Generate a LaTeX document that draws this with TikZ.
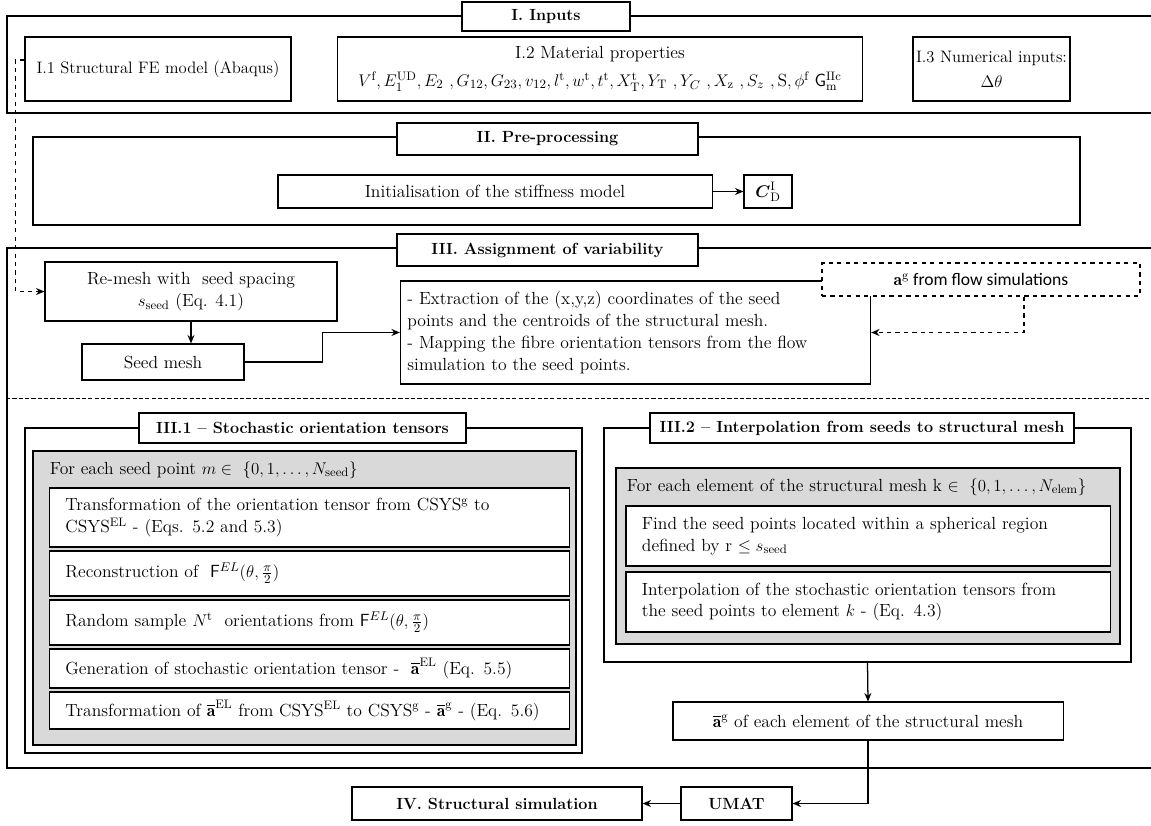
\documentclass[tikz,border=0pt]{standalone}
\usepackage{fontspec}
\usepackage{amsmath}
\usepackage{amssymb}
\newfontfamily\calibri{Carlito}
\usetikzlibrary{%
	calc,%
	arrows.meta,%
	positioning,%
}
\tikzset{
	>={Stealth[length=6pt,width=5pt]},%
	nodes={align=center},%
	secframe/.style={%
			draw,%
			rectangle,%
			line width=1.2pt,%
			inner sep=0},%
	sectitle/.style={%
			draw,%
			rectangle,%
			line width=1.2pt,%
			fill=white,%
			inner sep=0,%
			minimum height=0.8cm,%
			font={\fontsize{11.5}{14}\selectfont\bfseries}},%
	graybox/.style={%
			draw,%
			rectangle,%
			line width=1.2pt,%
			fill=boxgray,%
			inner sep=0},%
	stepbox/.style={%
			draw,%
			rectangle,%
			line width=0.8pt,%
			fill=white,%
			inner sep=2pt},%
	listbox/.style={%
			stepbox,%
			align=left,%
			inner xsep=0.4cm},%
	link/.style={%
			->,%
			line width=0.9pt},%
}
\definecolor{boxgray}{RGB}{217, 217, 217}
\newcommand{\abar}[1]{\overline{\mathbf{a}}^{\mathrm{#1}}}
\newcommand{\fel}{\mathsf{F}^{EL}(\theta,\tfrac{\pi}{2})}

\begin{document}
\begin{tikzpicture}[x=0.025cm, y=-0.025cm, nodes={font={\fontsize{12.5}{15.5}\selectfont}}]%
	\useasboundingbox (0,0) rectangle (1151,825);

	% I. Inputs
	\node[secframe, minimum width=28.825cm, minimum height=2.425cm] (secI) at (583.5,64.5) {};
	\node[sectitle, minimum width=4.2cm, minimum height=0.725cm] (ttlI) at (546,16.5) {I. Inputs};
	\node[stepbox, minimum width=6.65cm, minimum height=1.6cm, font={\fontsize{11.8}{15}\selectfont}] (I1) at (158,69) {I.1 Structural FE model (Abaqus)};
	\node[stepbox, minimum width=13.1cm, minimum height=1.6cm] (I2) at (600,69) {I.2 Material properties \\[4pt]
		$V^{\mathrm{f}}, E_1^{\mathrm{UD}}, E_2\ , G_{12}, G_{23}, v_{12}, l^{\mathrm{t}}, w^{\mathrm{t}}, t^{\mathrm{t}}, X_{\mathrm{T}}^{\mathrm{t}}, Y_{\mathrm{T}}\ , Y_C\ , X_{\mathrm{z}}\ , S_z\ , \mathrm{S}, \phi^{\mathrm{f}}\ \mathsf{G}_{\mathrm{m}}^{\mathrm{IIc}}$};
	\node[stepbox, minimum width=3.925cm, minimum height=1.6cm, font={\fontsize{11.8}{15}\selectfont}] (I3) at (991.5,69) {I.3 Numerical inputs: \\[3pt] $\Delta\theta$};

	% II. Pre-processing
	\node[secframe, minimum width=26.175cm, minimum height=2.2cm] (secII) at (556.5,181) {};
	\node[sectitle, minimum width=7.525cm] (ttlII) at (547.5,139) {II. Pre-processing};
	\node[stepbox, minimum width=10.85cm, minimum height=0.825cm] (init) at (495,191.5) {Initialisation of the stiffness model};
	\node[stepbox, minimum width=1.2cm, minimum height=0.825cm] (cD) at (768,191.5) {$\boldsymbol{C}_{\mathrm{D}}^{\mathrm{I}}$};

	\draw[link] (init) -- (cD);

	% III. Assignment of variability
	\node[secframe, minimum width=28.825cm, minimum height=13cm] (secIII) at (583.5,508) {};
	\node[sectitle, minimum width=7.525cm] (ttlIII) at (547.5,250) {III. Assignment of variability};
	\node[stepbox, minimum width=7.3cm, minimum height=1.475cm] (remesh) at (191,291.5) {Re-mesh with~ seed spacing \\ $s_{\mathrm{seed}}$ (Eq. 4.1)};
	\node[stepbox, minimum width=4.05cm, minimum height=0.9cm] (seedmesh) at (163,362) {Seed mesh};
	\node[stepbox, align=left, inner xsep=5pt, text width=11.4cm, minimum height=2.575cm] (extract) at (635.5,332.5) {%
		- Extraction of the (x,y,z) coordinates of the seed \\
		points and the centroids of the structural mesh. \\
		- Mapping the fibre orientation tensors from the flow \\
		simulation to the seed points.};
	\node[stepbox, dashed, minimum width=7.95cm, minimum height=0.825cm] (flow) at (981,279.5) {\calibri $\mathbf{a}^{\mathrm{g}}$ from flow simulations};

	\draw[link, dashed] ($(I1.west)+(0,-9)$) -- ++(-9,0) |- (remesh.west);
	\draw[link] (remesh.south) -- (remesh.south |- seedmesh.north);
	\draw[link] (seedmesh.east) -- ++(78,0) |- (extract.west);
	\draw[link, dashed] ($(flow.south)+(43,0)$) |- (extract.east);

	\draw[line width=0.5pt, dash pattern=on 3pt off 1.5pt] (secIII.west |- 0,398) -- (secIII.east |- 0,398);

	% III.1 Stochastic orientation tensors
	\node[secframe, minimum width=13.925cm, minimum height=8.125cm] (secIIIa) at (303.5,590.5) {};
	\node[sectitle, minimum width=8.175cm, minimum height=0.75cm] (ttlIIIa) at (302.5,428) {III.1 -- Stochastic orientation tensors};
	\node[graybox, minimum width=13.575cm, minimum height=7.35cm] (grayIIIa) at (304.5,598) {};
	\node[anchor=west] (eachseed) at (45,470) {For each seed point $m \in\ \{0,1,\dots,N_{\mathrm{seed}}\}$};
	\node[listbox, text width=12.2cm, minimum height=1.475cm] (trans) at (309.5,517.5) {Transformation of the orientation tensor from CSYS$^{\mathrm{g}}$ to \\ CSYS$^{\mathrm{EL}}$ - (Eqs. 5.2 and 5.3)};
	\node[listbox, text width=12.2cm, minimum height=1.125cm] (recon) at (309.5,573.5) {Reconstruction of~ $\fel$};
	\node[listbox, text width=12.2cm, minimum height=1.125cm] (sample) at (309.5,622.5) {Random sample $N^{\mathrm{t}}$~ orientations from $\fel$};
	\node[listbox, text width=12.2cm, minimum height=0.975cm] (gen) at (309.5,668.5) {Generation of stochastic orientation tensor -~ $\abar{EL}$ (Eq. 5.5)};
	\node[listbox, text width=12.2cm, minimum height=0.925cm] (back) at (309.5,710.5) {Transformation of $\abar{EL}$ from CSYS$^{\mathrm{EL}}$ to CSYS$^{\mathrm{g}}$ - $\abar{g}$ - (Eq. 5.6)};

	% III.2 Interpolation
	\node[secframe, minimum width=13.175cm, minimum height=5.85cm] (secIIIb) at (867.5,545) {};
	\node[sectitle, minimum width=10.6cm, minimum height=0.75cm] (ttlIIIb) at (862,428) {III.2 -- Interpolation from seeds to structural mesh};
	\node[graybox, minimum width=12.6cm, minimum height=4.4cm] (grayIIIb) at (868,556) {};
	\node[anchor=west] (eachelem) at (622,487) {For each element of the structural mesh k $\in\ \{0,1,\dots,N_{\mathrm{elem}}\}$};
	\node[listbox, text width=11.3cm, minimum height=1.5cm] (find) at (868,536) {Find the seed points located within a spherical region \\ defined by r $\leq s_{\mathrm{seed}}$};
	\node[listbox, text width=11.3cm, minimum height=1.5cm] (interp) at (868,602) {Interpolation of the stochastic orientation tensors from \\ the seed points to element $k$ - (Eq. 4.3)};

	\node[stepbox, minimum width=9.75cm, minimum height=0.95cm] (abarg) at (868,721) {$\abar{g}$ of each element of the structural mesh};

	% IV. Structural simulation
	\node[stepbox, minimum width=7.25cm, minimum height=0.825cm, font={\fontsize{11.5}{14}\selectfont\bfseries}] (struct) at (497,803.5) {IV. Structural simulation};
	\node[stepbox, minimum width=2.775cm, minimum height=0.825cm, font={\fontsize{11.5}{14}\selectfont\bfseries}] (umat) at (736.5,803.5) {UMAT};

	\draw[link] (secIIIb.south) -- (abarg.north);
	\draw[link] (abarg.south) |- (umat.east);
	\draw[link] (umat) -- (struct);
\end{tikzpicture}
\end{document}
